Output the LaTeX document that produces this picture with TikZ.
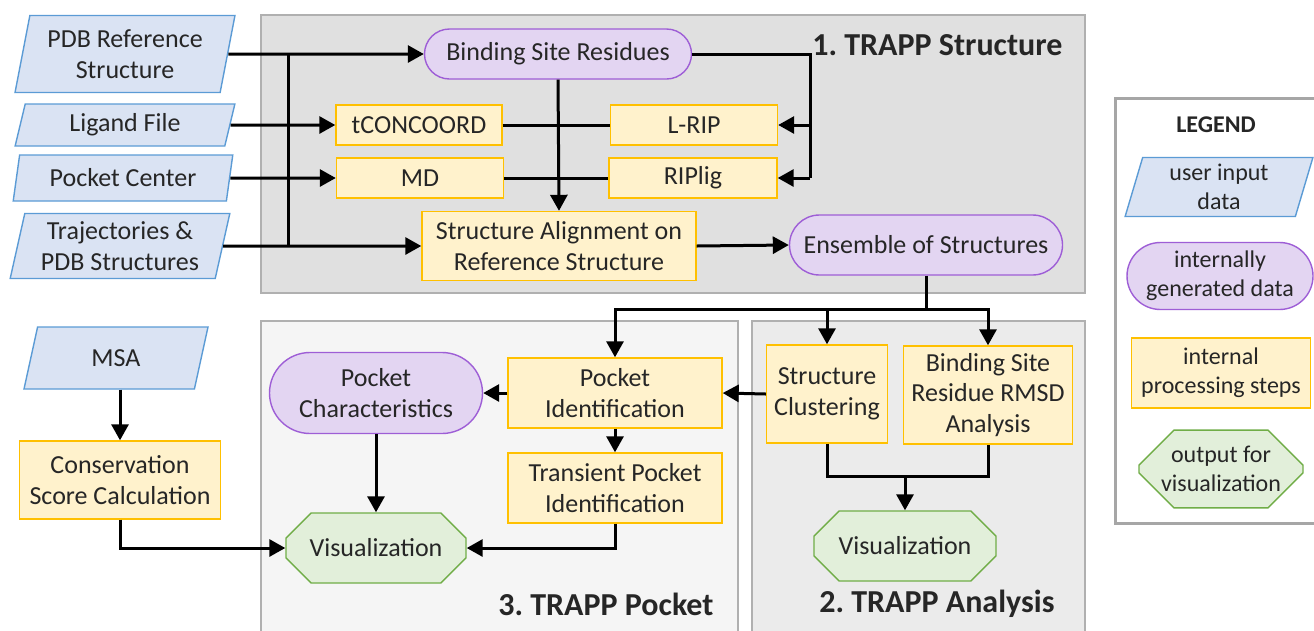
\documentclass[tikz,border=0pt]{standalone}
\usepackage{fontspec}
\setmainfont{Carlito}
\usepackage{xcolor}
\usepackage{tikz}
\usetikzlibrary{arrows.meta}
\usetikzlibrary{shapes.geometric,shapes.misc}
\definecolor{txtgray}{HTML}{262626}
\definecolor{infill}{HTML}{DAE3F3}
\definecolor{inline}{HTML}{5B9BD5}
\definecolor{genfill}{HTML}{E3D5F2}
\definecolor{genline}{HTML}{9E5ED6}
\definecolor{procfill}{HTML}{FFF2CC}
\definecolor{procline}{HTML}{FFC000}
\definecolor{visfill}{HTML}{E2EFDA}
\definecolor{visline}{HTML}{70AD47}
\definecolor{panelline}{HTML}{B0B0B0}
\frenchspacing

\begin{document}
\begin{tikzpicture}[x=1pt, y=-1pt, font=\fontsize{26}{30.5}\selectfont, text=txtgray,
    ln/.style={line width=3pt},
    arr/.style={line width=3pt, -{Triangle[length=16pt,width=17pt]}},
    indata/.style={trapezium, trapezium left angle=76, trapezium right angle=104,
      trapezium stretches=true, draw=inline, fill=infill, line width=1.4pt,
      align=center, inner sep=0pt},
    gendata/.style={rounded rectangle, draw=genline, fill=genfill, line width=1.4pt,
      align=center, inner sep=0pt},
    procstep/.style={rectangle, draw=procline, fill=procfill, line width=1.4pt,
      align=center, inner sep=0pt},
    outvis/.style={chamfered rectangle, chamfered rectangle angle=45,
      chamfered rectangle xsep=19pt, chamfered rectangle ysep=16pt,
      draw=visline, fill=visfill, line width=1.4pt, align=center, inner sep=0pt},
    panel/.style={draw=panelline, line width=1.4pt},
    legtext/.style={font=\fontsize{24}{29}\selectfont},
    title/.style={font=\fontsize{32}{36}\selectfont\bfseries, anchor=east}]
    \useasboundingbox (0,0) rectangle (1314,630);

    % panels
    \draw[panel, fill=black!12] (261,15) rectangle (1085,293);
    \draw[panel, fill=black!4] (261,321) rectangle (738,640);
    \draw[panel, fill=black!8] (752,321) rectangle (1085,640);
    \node[title] (t1) at (1066,45) {1. TRAPP Structure};
    \node[title] (t3) at (717,604) {3. TRAPP Pocket};
    \node[title] (t2) at (1058,604) {2. TRAPP Analysis};

    % inputs
    \node[indata, minimum width=220pt, minimum height=77pt] (pdb) at (125,54) {PDB Reference\\Structure};
    \node[indata, minimum width=220pt, minimum height=42pt] (lig) at (125,125) {Ligand File};
    \node[indata, minimum width=220pt, minimum height=46pt] (pcen) at (123,178) {Pocket Center};
    \node[indata, minimum width=220pt, minimum height=65pt] (traj) at (120,246) {Trajectories \&\\PDB Structures};
    \node[indata, minimum width=185pt, minimum height=62pt] (msa) at (116,358) {MSA};

    % structure
    \node[gendata, minimum width=267pt, minimum height=50pt] (bsr) at (558,54) {Binding Site Residues};
    \node[procstep, minimum width=166pt, minimum height=40pt] (tcc) at (419,125) {tCONCOORD};
    \node[procstep, minimum width=167pt, minimum height=40pt] (md) at (420,178) {MD};
    \node[procstep, minimum width=167pt, minimum height=40pt] (lrip) at (694,125) {L-RIP};
    \node[procstep, minimum width=168pt, minimum height=40pt] (riplig) at (693,178) {RIPlig};
    \node[procstep, minimum width=274pt, minimum height=69pt] (salign) at (559,246) {Structure Alignment on\\Reference Structure};
    \node[gendata, minimum width=273pt, minimum height=60pt] (ens) at (926,245) {Ensemble of Structures};

    % pocket
    \node[gendata, minimum width=213pt, minimum height=81pt] (pchar) at (376,393) {Pocket\\Characteristics};
    \node[procstep, minimum width=214pt, minimum height=70pt] (pid) at (615,393) {Pocket\\Identification};
    \node[procstep, minimum width=214pt, minimum height=70pt] (tpid) at (615,488) {Transient Pocket\\Identification};
    \node[outvis, minimum width=180pt, minimum height=70pt] (vis3) at (376,548) {Visualization};
    \node[procstep, minimum width=201pt, minimum height=78pt] (cons) at (120,480) {Conservation\\Score Calculation};

    % analysis
    \node[procstep, minimum width=121pt, minimum height=98pt] (sclust) at (827,394) {Structure\\Clustering};
    \node[procstep, minimum width=169pt, minimum height=98pt] (rmsd) at (988,395) {Binding Site\\Residue RMSD\\Analysis};
    \node[outvis, minimum width=182pt, minimum height=70pt] (vis2) at (905,546) {Visualization};

    % legend
    \draw[draw=black!35, line width=3pt, fill=white] (1115,98) rectangle (1330,523);
    \node[font=\fontsize{24}{29}\selectfont\bfseries] (leg) at (1216,125) {LEGEND};
    \node[indata, legtext, minimum width=188pt, minimum height=59pt] (leg1) at (1219,187) {user input\\data};
    \node[gendata, legtext, minimum width=186pt, minimum height=67pt] (leg2) at (1220,276) {internally\\generated data};
    \node[procstep, legtext, minimum width=179pt, minimum height=70pt] (leg3) at (1221,373) {internal\\processing steps};
    \node[outvis, legtext, minimum width=164pt, minimum height=68pt] (leg4) at (1221,469) {output for\\visualization};

    % connectors
    \coordinate (bus) at (288,0);
    \coordinate (rbus) at (810,0);
    \coordinate (split) at (926,309);
    \coordinate (merge) at (905,476);
    \draw[arr] (pdb.east) -- (bsr.west);
    \draw[ln] (bus |- pdb.east) -- (bus |- traj.east);
    \draw[arr] (traj.east) -- (salign.west);
    \draw[arr] (lig.east) -- (tcc.west);
    \draw[arr] (pcen.east) -- (md.west);
    \draw[ln] (tcc.east) -- (lrip.west);
    \draw[ln] (md.east) -- (riplig.west);
    \draw[arr] (bsr.south) -- (salign.north);
    \draw[ln] (bsr.east) -| (rbus |- riplig.east);
    \draw[arr] (rbus |- lrip.east) -- (lrip.east);
    \draw[arr] (rbus |- riplig.east) -- (riplig.east);
    \draw[arr] (salign.east) -- (ens.west);
    \draw[ln] (ens.south) -- (split);
    \draw[arr] (split) -| (pid.north);
    \draw[arr] (sclust.north |- split) -- (sclust.north);
    \draw[arr] (split) -| (rmsd.north);
    \draw[arr] (sclust.west) -- (pid.east);
    \draw[arr] (pid.west) -- (pchar.east);
    \draw[arr] (pid.south) -- (tpid.north);
    \draw[arr] (pchar.south) -- (vis3.north);
    \draw[arr] (tpid.south) |- (vis3.east);
    \draw[arr] (cons.north |- msa.south) -- (cons.north);
    \draw[arr] (cons.south) |- (vis3.west);
    \draw[ln] (sclust.south) |- (rmsd.south |- merge) -- (rmsd.south);
    \draw[arr] (merge) -- (vis2.north);

\end{tikzpicture}
\end{document}
